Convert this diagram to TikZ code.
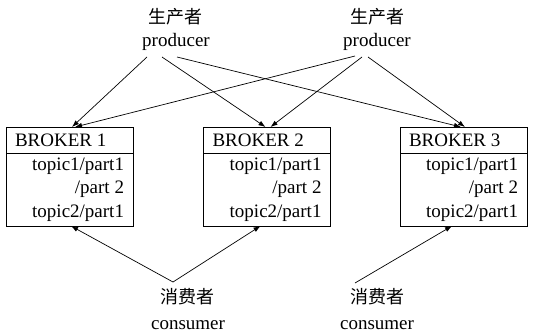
\documentclass[tikz,border=0pt]{standalone}
\usepackage{fontspec}
\setmainfont{Liberation Serif}
\newfontfamily\cjk{Noto Sans CJK SC}
\usetikzlibrary{calc,arrows.meta}
\begin{document}
\begin{tikzpicture}[x=1pt,y=-1pt,
  every node/.style={inner sep=0pt, outer sep=0pt},
  lbl/.style={font=\fontsize{19}{19}\selectfont},
  zh/.style={font=\cjk\fontsize{18}{18}\selectfont},
  brokerbox/.style={draw, line width=0.9pt, minimum width=127pt, minimum height=99pt},
  divider/.style={line width=0.9pt},
  link/.style={line width=0.7pt, -{Latex[length=7pt,width=5pt]}}
]
\useasboundingbox (0,0) rectangle (533,332);

% brokers
\node[brokerbox] (b1) at (69.5,176.5) {};
\node[brokerbox] (b2) at (267,176.5) {};
\node[brokerbox] (b3) at (463.5,176.5) {};

\foreach \b/\n in {b1/1,b2/2,b3/3}{
  \draw[divider] ($(\b.north west)+(0,26)$) -- ($(\b.north east)+(0,26)$);
  \node[lbl, anchor=base west] (\b-head) at ($(\b.north west)+(9,19)$) {BROKER \n};
  \node[lbl, anchor=base east] (\b-r1) at ($(\b.north east)+(-9,43)$) {topic1/part1};
  \node[lbl, anchor=base east] (\b-r2) at ($(\b.north east)+(-9,66)$) {/part 2};
  \node[lbl, anchor=base east] (\b-r3) at ($(\b.north east)+(-9,90)$) {topic2/part1};
}

% producers
\node[zh] (p1z) at (175,17) {生产者};
\node[lbl, anchor=base] (p1) at (176,46) {producer};
\node[zh] (p2z) at (377,17) {生产者};
\node[lbl, anchor=base] (p2) at (377,46) {producer};

% consumers
\node[zh] (c1) at (187,297) {消费者};
\node[lbl, anchor=base] (c1t) at (188,329) {consumer};
\node[zh] (c2) at (377,297) {消费者};
\node[lbl, anchor=base] (c2t) at (377,329) {consumer};

% producer -> broker
\draw[link] ($(p1.base)+(-29,11)$) -- ($(b1.north west)+(66,0)$);
\draw[link] ($(p1.base)+(-14,11)$) -- ($(b2.north west)+(62,0)$);
\draw[link] ($(p1.base)+(1,11)$) -- ($(b3.north west)+(61,0)$);
\draw[link] ($(p2.base)+(-22,10)$) -- ($(b1.north west)+(69,0)$);
\draw[link] ($(p2.base)+(-15,11)$) -- ($(b2.north west)+(67,0)$);
\draw[link] ($(p2.base)+(-9,11)$) -- ($(b3.north west)+(65,0)$);

% consumer -> broker
\draw[link] ($(c1.center)+(-14,-15)$) -- ($(b1.south west)+(65,0)$);
\draw[link] ($(c1.center)+(-14,-15)$) -- ($(b2.south west)+(57,0)$);
\draw[link] ($(c2.center)+(-22,-14)$) -- ($(b3.south west)+(52,0)$);
\end{tikzpicture}
\end{document}
